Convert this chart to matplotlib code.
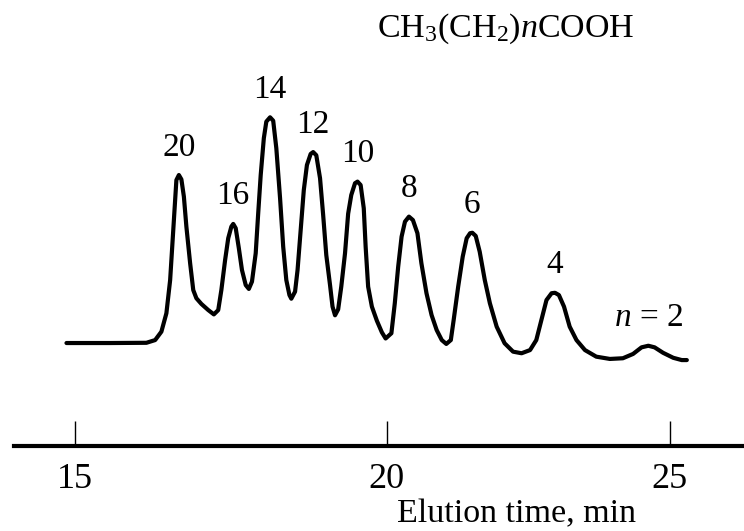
import numpy as np
import matplotlib
matplotlib.use("Agg")
import matplotlib.pyplot as plt

# chromatogram trace (elution time in min, detector signal in rel. units)
time_min = [14.87, 15.57, 16.15, 16.29, 16.39, 16.47, 16.53, 16.57, 16.61, 16.63,
            16.67, 16.71, 16.75, 16.79, 16.85, 16.90, 16.95, 17.03, 17.14, 17.23,
            17.30, 17.35, 17.41, 17.46, 17.51, 17.54, 17.58, 17.63, 17.68, 17.74,
            17.79, 17.84, 17.90, 17.94, 17.98, 18.03, 18.07, 18.13, 18.18, 18.23,
            18.29, 18.34, 18.39, 18.44, 18.47, 18.53, 18.57, 18.62, 18.67, 18.72,
            18.78, 18.82, 18.87, 18.93, 18.98, 19.03, 19.09, 19.13, 19.17, 19.22,
            19.27, 19.33, 19.38, 19.43, 19.49, 19.53, 19.58, 19.63, 19.66, 19.70,
            19.76, 19.84, 19.92, 19.98, 20.08, 20.14, 20.20, 20.26, 20.32, 20.39,
            20.46, 20.54, 20.61, 20.70, 20.79, 20.88, 20.97, 21.05, 21.13, 21.18,
            21.26, 21.34, 21.41, 21.47, 21.51, 21.57, 21.64, 21.73, 21.82, 21.94,
            22.08, 22.23, 22.38, 22.53, 22.64, 22.73, 22.82, 22.91, 22.97, 23.04,
            23.13, 23.23, 23.35, 23.50, 23.70, 23.94, 24.17, 24.35, 24.50, 24.62,
            24.73, 24.88, 25.06, 25.21, 25.30]
signal = [0.0, 0.0, 0.1, 1.3, 5.0, 13.1, 27.7, 45.3, 62.9, 71.7,
          73.9, 72.0, 64.4, 51.2, 35.1, 23.3, 19.7, 17.2, 14.5, 12.6,
          14.5, 23.3, 36.5, 46.1, 51.2, 52.4, 50.5, 41.7, 32.1, 25.5,
          23.8, 27.0, 39.5, 57.1, 73.9, 90.1, 97.4, 99.3, 97.8, 85.7,
          63.7, 42.4, 27.7, 21.1, 19.5, 22.6, 32.1, 49.7, 67.3, 78.3,
          83.2, 84.0, 82.6, 72.5, 56.3, 38.7, 25.5, 16.0, 12.2, 14.8,
          24.8, 39.5, 56.9, 65.1, 70.3, 71.0, 69.5, 59.3, 42.4, 24.8,
          16.0, 9.8, 4.7, 2.0, 4.3, 17.5, 33.6, 46.8, 53.4, 55.6,
          54.1, 48.3, 35.1, 21.9, 12.3, 5.7, 1.3, -0.4, 1.3, 10.1,
          24.8, 38.0, 46.1, 48.3, 48.5, 47.1, 40.2, 27.7, 17.5, 7.2,
          -0.1, -3.8, -4.5, -3.1, 1.3, 10.1, 18.9, 21.9, 22.1, 21.1,
          16.0, 7.2, 1.3, -3.1, -6.0, -7.0, -6.7, -4.8, -1.9, -1.2,
          -1.9, -4.3, -6.5, -7.5, -7.5]

# peaks: apex time and carbon number n of CH3(CH2)nCOOH
peak_times = [16.67, 17.54, 18.13, 18.82, 19.53, 20.39, 21.51, 22.97, 24.62]
peak_labels = ["20", "16", "14", "12", "10", "8", "6", "4", r"$n$ = 2"]
tick_values = [15, 20, 25]


# the printed time axis is not evenly spaced (15-20 is wider than 20-25)
def fwd(t):
    t = np.asarray(t, dtype=float)
    return np.where(t < 20, (t - 20) * 62.46, (t - 20) * 56.6)


def inv(p):
    p = np.asarray(p, dtype=float)
    return np.where(p < 0, 20 + p / 62.46, 20 + p / 56.6)


plt.rcParams["font.family"] = ["Liberation Serif", "DejaVu Serif"]
plt.rcParams["mathtext.fontset"] = "custom"
plt.rcParams["mathtext.rm"] = "Liberation Serif"
plt.rcParams["mathtext.it"] = "Liberation Serif:italic"

fig = plt.figure(figsize=(7.44, 5.31), dpi=100)
ax = fig.add_axes([14 / 744, 85 / 531, 1 - 14 / 744, 446 / 531])
ax.set_xscale("function", functions=(fwd, inv))

ax.plot(time_min, signal, color="black", lw=3.0,
        solid_joinstyle="round", solid_capstyle="round")

for t, lab in zip(peak_times, peak_labels):
    y = np.interp(t, time_min, signal)
    ax.annotate(lab, (t, y), xytext=(0, 20), textcoords="offset points",
                ha="center", va="center", fontsize=24)

ax.set_xlim(14.03, 26.31)
ax.set_ylim(-45.3, 150.9)
ax.set_yticks([])
ax.set_xticks(tick_values)
ax.set_xticklabels([str(v) for v in tick_values])
ax.xaxis.set_minor_locator(plt.NullLocator())
ax.tick_params(axis="x", direction="in", length=18, width=1.0,
               labelsize=26, pad=12)
for side in ["top", "right", "left"]:
    ax.spines[side].set_visible(False)
ax.spines["bottom"].set_linewidth(3.0)
ax.patch.set_visible(False)

fig.text(377 / 744, 1 - 37 / 531, r"CH$_3$(CH$_2$)$n$COOH",
         fontsize=24.5, ha="left", va="baseline")
fig.text(397 / 744, 1 - 522 / 531, "Elution time, min",
         fontsize=24.5, ha="left", va="baseline")

fig.savefig("out.png", dpi=100)
